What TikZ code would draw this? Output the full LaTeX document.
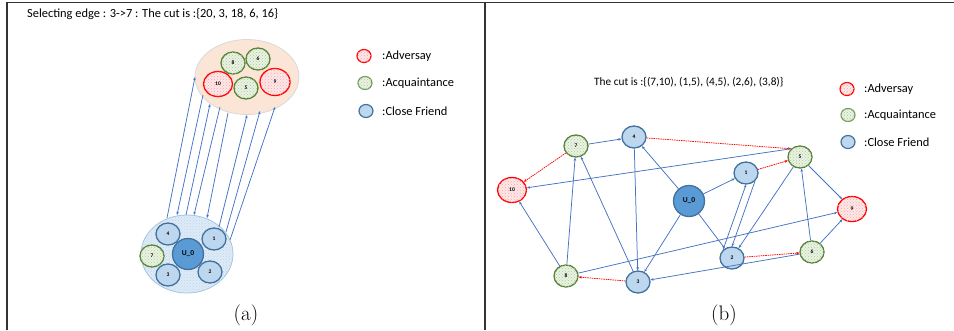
\documentclass[tikz,border=0pt]{standalone}
\usepackage{fontspec}
\newfontfamily\calfont{Carlito}
\usetikzlibrary{shapes.geometric,arrows.meta,patterns}
\definecolor{cfb}{HTML}{41719C}
\definecolor{cff}{HTML}{BDD7EE}
\definecolor{uf}{HTML}{5B9BD5}
\definecolor{acb}{HTML}{548235}
\definecolor{acf}{HTML}{E9F3E1}
\definecolor{adb}{HTML}{FF0000}
\definecolor{adf}{HTML}{FCE8E8}
\definecolor{edgec}{HTML}{4472C4}
\definecolor{peach}{HTML}{FBE5D6}
\definecolor{grpf}{HTML}{DEEBF7}
\definecolor{frame}{HTML}{333333}
\tikzset{
  nd/.style={ellipse,line width=1.3pt,inner sep=0pt,font=\calfont\fontsize{5.5}{6}\selectfont\bfseries},
  cf/.style={nd,draw=cfb,fill=cff,minimum width=24pt,minimum height=22pt},
  ac/.style={nd,draw=acb,fill=acf,minimum width=24pt,minimum height=22pt,
     postaction={pattern=crosshatch dots,pattern color=acb!45}},
  ad/.style={nd,draw=adb,fill=adf,minimum width=29pt,minimum height=25pt,
     postaction={pattern=crosshatch dots,pattern color=adb!35}},
  uz/.style={nd,draw=cfb,fill=uf,minimum size=31pt,font=\calfont\fontsize{7.5}{8}\selectfont\bfseries},
  lg/.style={ellipse,line width=1.2pt,minimum width=14pt,minimum height=13pt,inner sep=0pt},
  lgad/.style={lg,draw=adb,fill=adf,postaction={pattern=crosshatch dots,pattern color=adb!35}},
  lgac/.style={lg,draw=acb!80,fill=acf,postaction={pattern=crosshatch dots,pattern color=acb!45}},
  lgcf/.style={lg,draw=cfb,fill=cff},
  lgtext/.style={anchor=west,inner sep=0pt,font=\calfont\fontsize{12.4}{14}\selectfont},
  ttl/.style={anchor=west,inner sep=0pt,font=\calfont\fontsize{12.4}{14}\selectfont},
  ttlb/.style={anchor=west,inner sep=0pt,font=\calfont\fontsize{11.3}{13}\selectfont},
  captxt/.style={inner sep=0pt,font=\fontsize{21}{24}\selectfont},
  ed/.style={draw=edgec,line width=0.75pt,-{Stealth[length=3.2pt,width=2.6pt]}},
  cutedge/.style={draw=adb,line width=0.75pt,dash pattern=on 1.5pt off 0.8pt,-{Stealth[length=3.2pt,width=2.6pt]}},
}
\begin{document}
\begin{tikzpicture}[x=1pt,y=-1pt]
\useasboundingbox (0,0) rectangle (954,330);
% frames
\draw[frame,line width=1.4pt] (7,330) -- (7,2.5) -- (954,2.5);
\draw[frame,line width=1.4pt] (485,2.5) -- (485,330);

% ---------------- panel (a) ----------------
\node[ttl] (ta) at (27,14) {Selecting edge : 3->7 : The cut is :\{20, 3, 18, 6, 16\}};

\node[ellipse,draw=black!15,fill=peach,minimum width=104pt,minimum height=75pt,line width=0.8pt] (top) at (247,77) {};
\node[ellipse,draw=cff!80!cfb,fill=grpf,minimum width=92pt,minimum height=78pt,line width=0.8pt,
  postaction={pattern=crosshatch dots,pattern color=cff}] (bot) at (187,254) {};

\node[ac] (a8) at (233,63) {8};
\node[ac] (a6) at (258,59) {6};
\node[ad] (a10) at (218,84) {10};
\node[ac] (a5) at (246,88) {5};
\node[ad,minimum width=30pt,minimum height=27pt] (a9) at (275,82) {9};

\node[cf] (a4) at (168,234) {4};
\node[cf] (a1) at (214,239) {1};
\node[uz] (au) at (188,254) {U\_0};
\node[ac] (a7) at (152,256) {7};
\node[cf] (a3) at (168,275) {3};
\node[cf] (a2) at (210,272) {2};

\coordinate (p1s) at (167,218); \coordinate (p1e) at (195,77);
\coordinate (p2s) at (203,95);  \coordinate (p2e) at (177,215);
\coordinate (p3s) at (186,215); \coordinate (p3e) at (210,104);
\coordinate (p4s) at (220,107); \coordinate (p4e) at (194,215);
\coordinate (p5s) at (228,113); \coordinate (p5e) at (207,218);
\coordinate (p6s) at (219,227); \coordinate (p6e) at (247,115);
\coordinate (p7s) at (226,232); \coordinate (p7e) at (260,111);
\coordinate (p8s) at (230,240); \coordinate (p8e) at (275,107);
\foreach \i in {1,...,8} { \draw[ed] (p\i s) -- (p\i e); }

\node[lgad] (la1) at (364,56) {};
\node[lgtext] (lt1) at (382,56) {:Adversay};
\node[lgac] (la2) at (365,83) {};
\node[lgtext] (lt2) at (382,83) {:Acquaintance};
\node[lgcf] (la3) at (366,111) {};
\node[lgtext] (lt3) at (382,111) {:Close Friend};

\node[captxt] (capa) at (246,315) {(a)};

% ---------------- panel (b) ----------------
\node[ttlb] (tb) at (594,82) {The cut is :\{(7,10), (1,5), (4,5), (2,6), (3,8)\}};

\node[lgad] (lb1) at (847,89) {};
\node[lgtext] (lbt1) at (864,89) {:Adversay};
\node[lgac] (lb2) at (848,115) {};
\node[lgtext] (lbt2) at (864,115) {:Acquaintance};
\node[lgcf] (lb3) at (848,142) {};
\node[lgtext] (lbt3) at (864,142) {:Close Friend};

\node[ac] (b7) at (576,146) {7};
\node[cf] (b4) at (634,137) {4};
\node[ad] (b10) at (512,190) {10};
\node[uz] (bu) at (689,201) {U\_0};
\node[cf] (b1) at (746,173) {1};
\node[ac] (b5) at (800,157) {5};
\node[ad] (b9) at (852,209) {9};
\node[cf] (b2) at (732,258) {2};
\node[ac] (b6) at (812,252) {6};
\node[ac] (b8) at (566,276) {8};
\node[cf] (b3) at (638,282) {3};

\draw[ed] (b7) -- (b4);
\draw[cutedge] (b4) -- (b5.north west);
\draw[cutedge] (b7) -- (b10);
\draw[ed] (b5.north west) -- (b10);
\draw[ed] (bu) -- (b4);
\draw[ed] (bu) -- (b1);
\draw[ed] (bu) -- (b2);
\draw[ed] (bu) -- (b3);
\draw[ed] (b4) -- (b3);
\draw[ed] (b3) -- (b7);
\draw[ed] (b8) -- (b7);
\draw[ed] (b8) -- (b10);
\draw[cutedge] (b3) -- (b8);
\draw[ed] (b8) -- (b9);
\draw[ed] (b6) -- (b3);
\draw[cutedge] (b1) -- (b5);
\draw[ed] (b2.north west) -- (b1.south);
\draw[ed] (b1.south east) -- (b2.north);
\draw[ed] (b5) -- (b2);
\draw[ed] (b6) -- (b5);
\draw[ed] (b5) -- (b9);
\draw[ed] (b6) -- (b9);
\draw[cutedge] (b2) -- (b6);

\node[captxt] (capb) at (724,315) {(b)};
\end{tikzpicture}
\end{document}
